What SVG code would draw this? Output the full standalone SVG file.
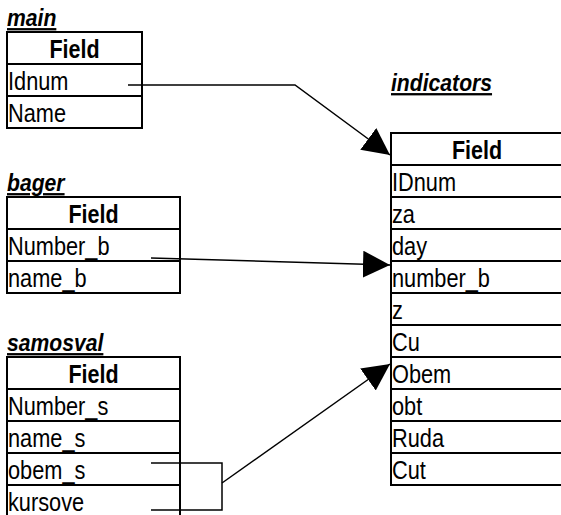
<svg xmlns="http://www.w3.org/2000/svg" width="561" height="515" viewBox="0 0 561 515">
<style>
.tb{fill:#fff;stroke:#000;stroke-width:2}
.ln{stroke:#000;stroke-width:2}
.t{font-family:"Liberation Sans",Arial,sans-serif;font-size:25px;fill:#000}
.h{font-family:"Liberation Sans",Arial,sans-serif;font-size:25px;font-weight:bold;fill:#000;text-anchor:middle}
.ttl{font-family:"Liberation Sans",Arial,sans-serif;font-size:23px;font-weight:bold;font-style:italic;text-decoration:underline;fill:#000}
.c{fill:none;stroke:#000;stroke-width:1.5}
</style>
<defs>
<marker id="ah" markerUnits="userSpaceOnUse" markerWidth="28" markerHeight="28" refX="27" refY="13.5" orient="auto" viewBox="0 0 28 28">
<path d="M0,0 L27,13.5 L0,27 z" fill="#000"/>
</marker>
</defs>
<rect width="561" height="515" fill="#fff"/>

<g id="main">
<text class="ttl" transform="translate(7,26) scale(0.92,1)">main</text>
<rect class="tb" x="7" y="32" width="135" height="96"/>
<line class="ln" x1="7" y1="64" x2="142" y2="64"/>
<line class="ln" x1="7" y1="96" x2="142" y2="96"/>
<text class="h" transform="translate(74.5,58) scale(0.86,1)">Field</text>
<text class="t" transform="translate(8,90) scale(0.87,1)">Idnum</text>
<text class="t" transform="translate(8,122) scale(0.87,1)">Name</text>
</g>

<g id="bager">
<text class="ttl" transform="translate(7,191) scale(0.92,1)">bager</text>
<rect class="tb" x="7" y="197" width="173" height="96"/>
<line class="ln" x1="7" y1="229" x2="180" y2="229"/>
<line class="ln" x1="7" y1="261" x2="180" y2="261"/>
<text class="h" transform="translate(93.5,223) scale(0.86,1)">Field</text>
<text class="t" transform="translate(8,255) scale(0.87,1)">Number_b</text>
<text class="t" transform="translate(8,287) scale(0.87,1)">name_b</text>
</g>

<g id="samosval">
<text class="ttl" transform="translate(7,351) scale(0.92,1)">samosval</text>
<rect class="tb" x="7" y="357" width="173" height="170"/>
<line class="ln" x1="7" y1="389" x2="180" y2="389"/>
<line class="ln" x1="7" y1="421" x2="180" y2="421"/>
<line class="ln" x1="7" y1="453" x2="180" y2="453"/>
<line class="ln" x1="7" y1="485" x2="180" y2="485"/>
<text class="h" transform="translate(93.5,383) scale(0.86,1)">Field</text>
<text class="t" transform="translate(8,415) scale(0.87,1)">Number_s</text>
<text class="t" transform="translate(8,447) scale(0.87,1)">name_s</text>
<text class="t" transform="translate(8,479) scale(0.87,1)">obem_s</text>
<text class="t" transform="translate(8,511) scale(0.87,1)">kursove</text>
</g>

<g id="indicators">
<text class="ttl" transform="translate(391,91) scale(0.92,1)">indicators</text>
<rect class="tb" x="391" y="133" width="172" height="352"/>
<line class="ln" x1="391" y1="165" x2="563" y2="165"/>
<line class="ln" x1="391" y1="197" x2="563" y2="197"/>
<line class="ln" x1="391" y1="229" x2="563" y2="229"/>
<line class="ln" x1="391" y1="261" x2="563" y2="261"/>
<line class="ln" x1="391" y1="293" x2="563" y2="293"/>
<line class="ln" x1="391" y1="325" x2="563" y2="325"/>
<line class="ln" x1="391" y1="357" x2="563" y2="357"/>
<line class="ln" x1="391" y1="389" x2="563" y2="389"/>
<line class="ln" x1="391" y1="421" x2="563" y2="421"/>
<line class="ln" x1="391" y1="453" x2="563" y2="453"/>
<text class="h" transform="translate(477,159) scale(0.86,1)">Field</text>
<text class="t" transform="translate(392,191) scale(0.87,1)">IDnum</text>
<text class="t" transform="translate(392,223) scale(0.87,1)">za</text>
<text class="t" transform="translate(392,255) scale(0.87,1)">day</text>
<text class="t" transform="translate(392,287) scale(0.87,1)">number_b</text>
<text class="t" transform="translate(392,319) scale(0.87,1)">z</text>
<text class="t" transform="translate(392,351) scale(0.87,1)">Cu</text>
<text class="t" transform="translate(392,383) scale(0.87,1)">Obem</text>
<text class="t" transform="translate(392,415) scale(0.87,1)">obt</text>
<text class="t" transform="translate(392,447) scale(0.87,1)">Ruda</text>
<text class="t" transform="translate(392,479) scale(0.87,1)">Cut</text>
</g>

<g id="connectors">
<polyline class="c" points="128,85 295,85 390,155" marker-end="url(#ah)"/>
<line class="c" x1="151" y1="258" x2="390" y2="265" marker-end="url(#ah)"/>
<polyline class="c" points="151,463 222,463 222,510 151,510"/>
<line class="c" x1="222" y1="483" x2="390" y2="364" marker-end="url(#ah)"/>
</g>
</svg>
